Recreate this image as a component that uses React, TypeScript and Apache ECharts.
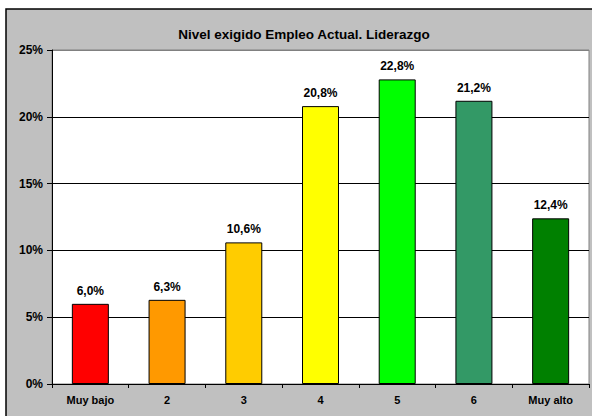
import React, { useEffect, useRef } from "react";
import * as echarts from "echarts";

const title = "Nivel exigido Empleo Actual. Liderazgo";
const categories = ["Muy bajo", "2", "3", "4", "5", "6", "Muy alto"];
const values = [6.0, 6.3, 10.6, 20.8, 22.8, 21.2, 12.4];
const barColors = ["#FF0000", "#FF9900", "#FFCC00", "#FFFF00", "#00FF00", "#339966", "#008000"];
const yTicks = [0, 5, 10, 15, 20, 25];

export default function App() {
  const ref = useRef<HTMLDivElement>(null);
  useEffect(() => {
    if (!ref.current) return;
    const chart = echarts.init(ref.current, null, { renderer: "svg" });
    const font = "'Liberation Sans', Arial, sans-serif";
    chart.setOption({
      animation: false,
      backgroundColor: "#FFFFFF",
      graphic: [
        {
          type: "rect",
          z: -10,
          silent: true,
          shape: { x: 6, y: 9, width: 600, height: 420 },
          style: { fill: "#C0C0C0", stroke: "#000000", lineWidth: 1.5 },
        },
      ],
      title: {
        text: title,
        left: 299,
        top: 22,
        textAlign: "center",
        textStyle: { fontFamily: font, fontSize: 13.5, fontWeight: "bold", color: "#000" },
      },
      grid: {
        left: 52,
        top: 50,
        right: 3,
        bottom: 32,
        show: true,
        backgroundColor: "#FFFFFF",
        borderColor: "#808080",
        borderWidth: 1,
      },
      xAxis: {
        type: "category",
        data: categories,
        axisLine: { lineStyle: { color: "#000", width: 1 } },
        axisTick: { show: true, alignWithLabel: false, length: 4, lineStyle: { color: "#000" } },
        axisLabel: { fontFamily: font, fontSize: 11, fontWeight: "bold", color: "#000", margin: 10, interval: 0 },
        splitLine: { show: false },
      },
      yAxis: {
        type: "value",
        min: yTicks[0],
        max: yTicks[yTicks.length - 1],
        interval: 5,
        axisLine: { show: true, lineStyle: { color: "#000", width: 1 } },
        axisTick: { show: true, length: 5, lineStyle: { color: "#000" } },
        axisLabel: {
          fontFamily: font,
          fontSize: 12,
          fontWeight: "bold",
          color: "#000",
          margin: 9,
          formatter: (v: number) => v + "%",
        },
        splitLine: {
          show: true,
          lineStyle: { color: ["#000", "#000", "#000", "#000", "#000", "#808080"], width: 1 },
        },
      },
      series: [
        {
          type: "bar",
          data: values.map((v, i) => ({ value: v, itemStyle: { color: barColors[i] } })),
          barWidth: 37,
          itemStyle: { borderColor: "#000", borderWidth: 1 },
          label: {
            show: true,
            position: "top",
            distance: 7,
            fontFamily: font,
            fontSize: 12,
            fontWeight: "bold",
            color: "#000",
            formatter: (p: any) => p.value.toFixed(1).replace(".", ",") + "%",
          },
        },
      ],
    });
    return () => chart.dispose();
  }, []);
  return <div ref={ref} style={{ position: "absolute", left: 0, top: 0, width: 592, height: 416 }} />;
}
